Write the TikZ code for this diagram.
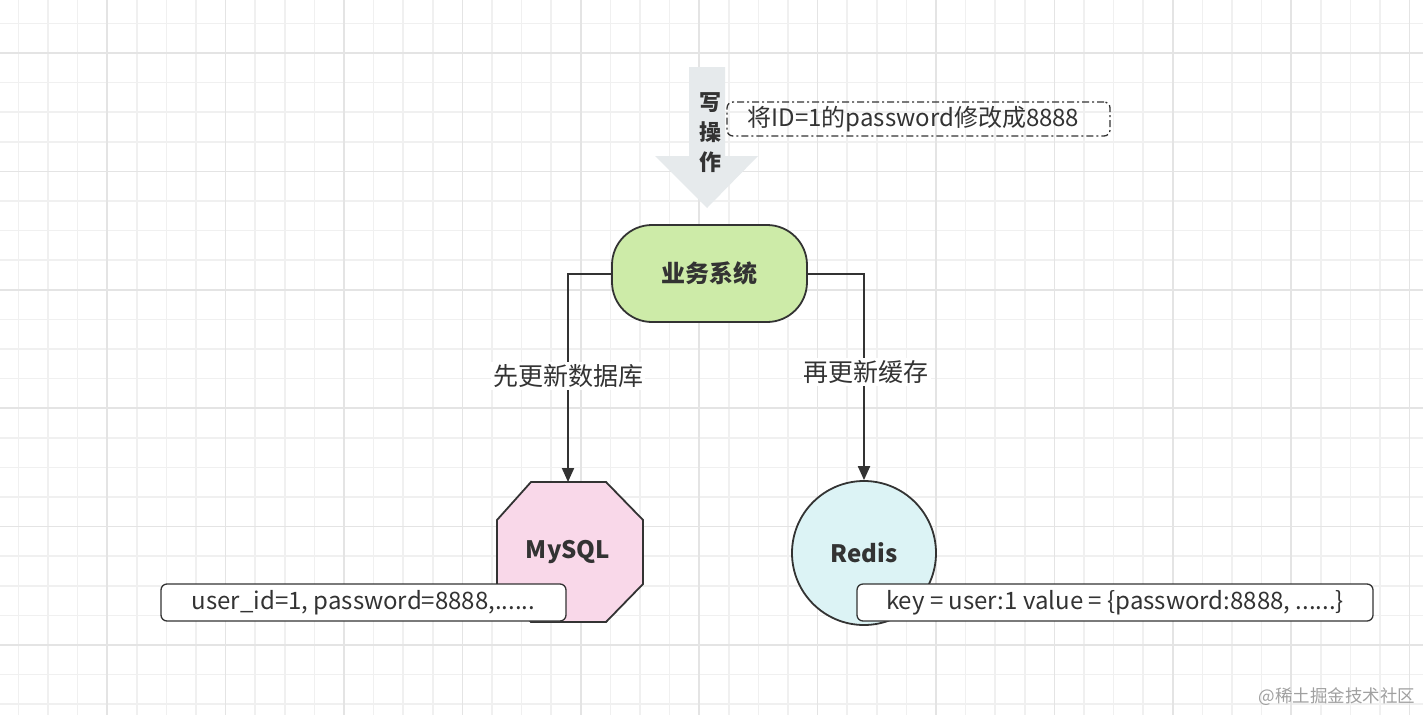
\documentclass[tikz,border=0pt]{standalone}
\usepackage{fontspec}
\setmainfont{Noto Sans CJK SC}
\usetikzlibrary{arrows.meta}
\definecolor{gridc}{HTML}{F0F0F0}
\definecolor{gridm}{HTML}{E4E4E4}
\definecolor{edge}{HTML}{333333}
\begin{document}
\begin{tikzpicture}[x=1pt,y=-1pt,
  conn/.style={draw=edge,line width=2pt,-{Triangle[length=14pt,width=12pt]}},
  lbl/.style={fill=white,inner sep=2pt,font=\fontsize{25}{28}\selectfont,text=edge},
  note/.style={draw=edge,line width=1.3pt,rounded corners=6pt,fill=white,font=\fontsize{24}{28}\selectfont,text=edge}]
\useasboundingbox (0,0) rectangle (1423,715);
\fill[white] (0,0) rectangle (1423,715);
\foreach \i in {0,...,47} {\draw[gridc,line width=1.5pt] (18.4+29.6*\i,0) -- (18.4+29.6*\i,715);}
\foreach \i in {0,...,24} {\draw[gridc,line width=1.5pt] (0,23.4+29.6*\i) -- (1423,23.4+29.6*\i);}
\foreach \i in {0,...,12} {\draw[gridm,line width=1.5pt] (107.2+118.4*\i,0) -- (107.2+118.4*\i,715);}
\foreach \i in {0,...,6} {\draw[gridm,line width=1.5pt] (0,53+118.4*\i) -- (1423,53+118.4*\i);}
% note box
\node[draw=edge,line width=1.3pt,dash pattern=on 7pt off 3pt on 2pt off 3pt,rounded corners=6pt,minimum width=383pt,minimum height=34pt,font=\fontsize{24}{28}\selectfont,text=edge] (nt) at (918.5,119) {\hspace{-10pt}将ID=1的password修改成8888};
% big arrow
\fill[fill={rgb,255:red,230;green,234;blue,236}] (689,67) -- (725,67) -- (725,156) -- (758,156) -- (707,208) -- (655,156) -- (689,156) -- cycle;
\node[font=\bfseries\fontsize{22}{30}\selectfont,text=edge,align=center] (wr) at (710,133) {写\\操\\作};
% system
\node[draw=edge,line width=1.8pt,fill={rgb,255:red,205;green,235;blue,168},rounded corners=40pt,minimum width=195pt,minimum height=97pt,font=\bfseries\fontsize{24}{28}\selectfont,text=edge] (sys) at (709.5,273.5) {业务系统};
% MySQL octagon
\draw[edge,line width=1.8pt,fill={rgb,255:red,249;green,216;blue,233}] (531,482) -- (606,482) -- (643,520) -- (643,584) -- (606,622) -- (531,622) -- (497,584) -- (497,520) -- cycle;
\node[font=\bfseries\fontsize{24}{28}\selectfont,text=edge] (my) at (568,552) {MySQL};
\coordinate (mytop) at (568,482);
% Redis
\node[circle,draw=edge,line width=1.8pt,fill={rgb,255:red,220;green,243;blue,245},minimum size=144pt,font=\bfseries\fontsize{24}{28}\selectfont,text=edge] (rd) at (864,553) {Redis};
% connectors
\draw[conn] (sys.west) -| (mytop);
\draw[conn] (sys.east) -| (rd.north);
\node[lbl] (l1) at (568,376) {先更新数据库};
\node[lbl] (l2) at (866,372) {再更新缓存};
% data boxes
\node[note,minimum width=405pt,minimum height=37pt] (b1) at (363.5,602.5) {user\_id=1, password=8888,......};
\node[note,minimum width=516pt,minimum height=37pt] (b2) at (1115,602.5) {key = user:1 value = \{password:8888, ......\}};
\node[font=\fontsize{17.5}{20}\selectfont,text={rgb,255:red,160;green,160;blue,160}] (wm) at (1337,697) {@稀土掘金技术社区};
\end{tikzpicture}
\end{document}
